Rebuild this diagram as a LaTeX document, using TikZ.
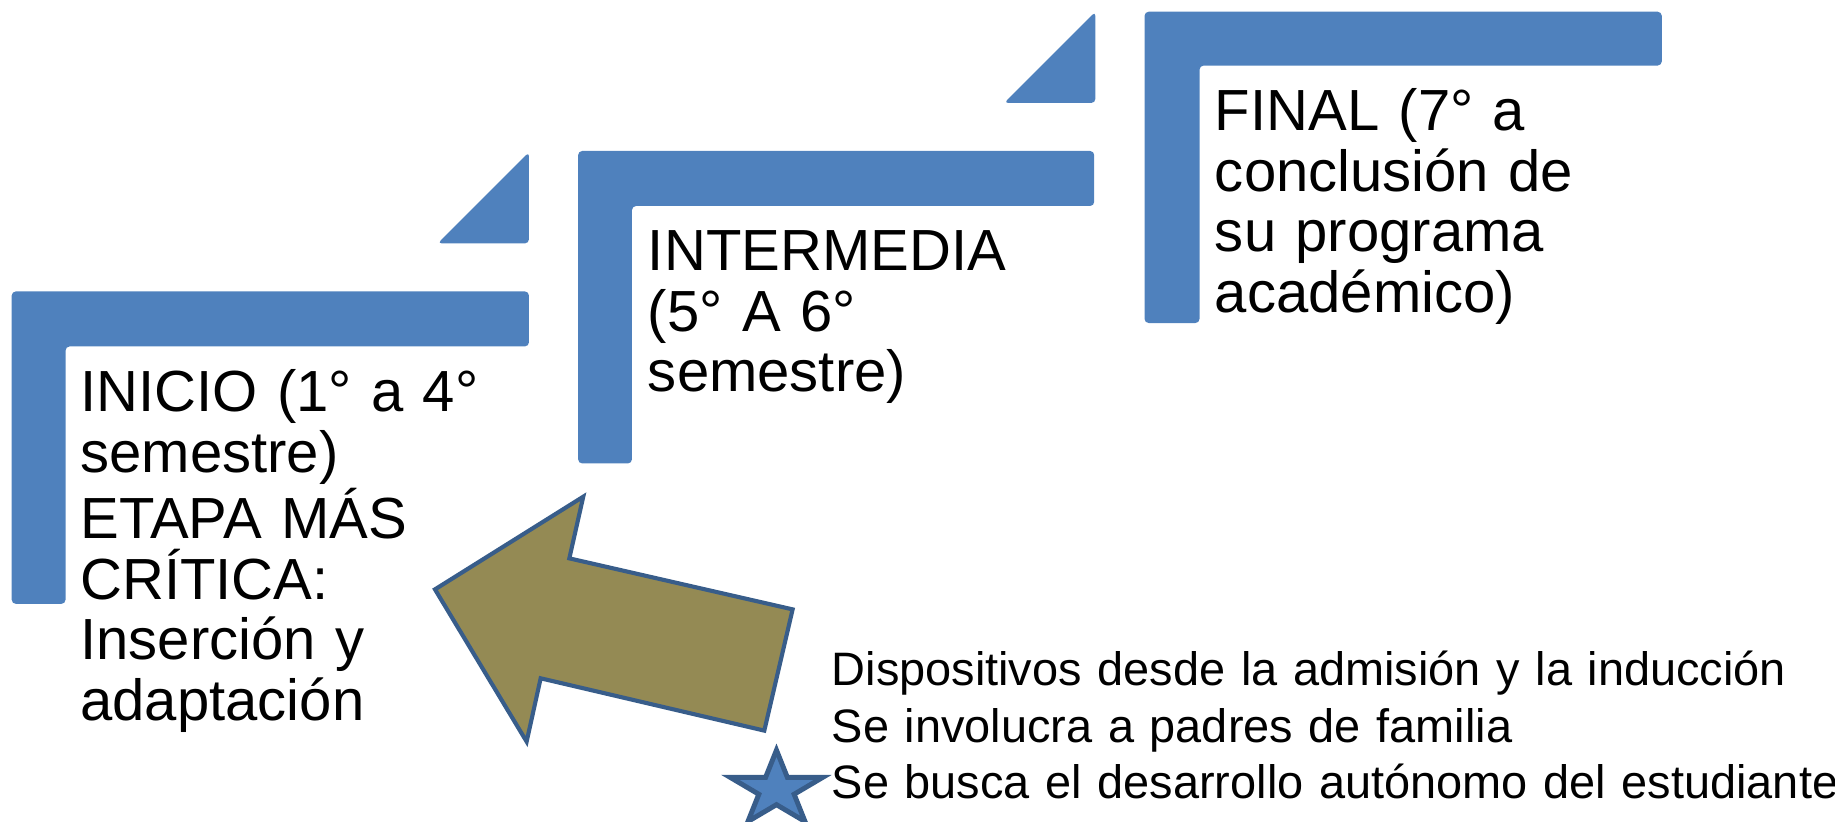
\documentclass[tikz,border=0pt]{standalone}
\usepackage{fontspec}
\setmainfont{Liberation Sans}
\definecolor{stepblue}{HTML}{4F81BD}
\definecolor{edgeblue}{HTML}{385D8A}
\definecolor{arrowolive}{HTML}{948A54}
\tikzset{
    stepbar/.style={
        fill=stepblue, % 阶梯颜色
        rounded corners=1pt
    },
    stepcorner/.style={
        fill=stepblue,
        rounded corners=1pt
    },
    phasetext/.style={
        anchor=base west,
        inner sep=0,
        align=left,
        text width=5cm,
        font=\fontsize{14.1pt}{14.7pt}\selectfont
    },
    notetext/.style={
        anchor=base west,
        inner sep=0,
        align=left,
        text width=10cm,
        font=\fontsize{11.4pt}{13.66pt}\selectfont
    },
    backarrow/.style={
        fill=arrowolive,
        draw=edgeblue, % 边框颜色
        line width=1pt
    },
    notestar/.style={
        fill=stepblue,
        draw=edgeblue,
        line width=1.2pt
    }
}

\begin{document}
\begin{tikzpicture}[x=0.01cm, y=-0.01cm]
    \useasboundingbox (0,0) rectangle (1568,702);
    \clip (0,0) rectangle (1568,702);
    % 三级阶梯
    \fill[stepbar] (10,249) -- (452,249) -- (452,296) -- (56,296) -- (56,516) -- (10,516) -- cycle;
    \fill[stepbar] (494,129) -- (935,129) -- (935,176) -- (540,176) -- (540,396) -- (494,396) -- cycle;
    \fill[stepbar] (978,10) -- (1420,10) -- (1420,56) -- (1025,56) -- (1025,276) -- (978,276) -- cycle;
    % 三角形
    \fill[stepcorner] (452,130) -- (452,208) -- (374,208) -- cycle;
    \fill[stepcorner] (936,10) -- (936,88) -- (858,88) -- cycle;
    % 文字
    \node[phasetext] (inicio) at (68,351.8) {INICIO (1° a 4°\\ semestre)\\ ETAPA MÁS\\ CRÍTICA:\\ Inserción y\\ adaptación};
    \node[phasetext] (intermedia) at (553,231.3) {INTERMEDIA\\ (5° A 6°\\ semestre)};
    \node[phasetext] (final) at (1037.5,111.7) {FINAL (7° a\\ conclusión de\\ su programa\\ académico)};
    \node[notetext] (dispositivos) at (710,586) {Dispositivos desde la admisión y la inducción\\ Se involucra a padres de familia\\ Se busca el desarrollo autónomo del estudiante};
    % 箭头
    \draw[backarrow] (371.7,503.6) -- (498.4,424.4) -- (486.5,477.1) -- (677.3,520.7)
        -- (653.1,624.3) -- (462.0,579.6) -- (450.0,633.7) -- cycle;
    % 星形
    \begin{scope}[shift={(663.5,674.7)}]
        \draw[notestar] (-90:41.5 and 33.7)
            \foreach \i/\o in {-54/-18, 18/54, 90/126, 162/198} {
                -- (\i:15.85 and 12.87) -- (\o:41.5 and 33.7)
            } -- (234:15.85 and 12.87) -- cycle;
    \end{scope}
\end{tikzpicture}
\end{document}
